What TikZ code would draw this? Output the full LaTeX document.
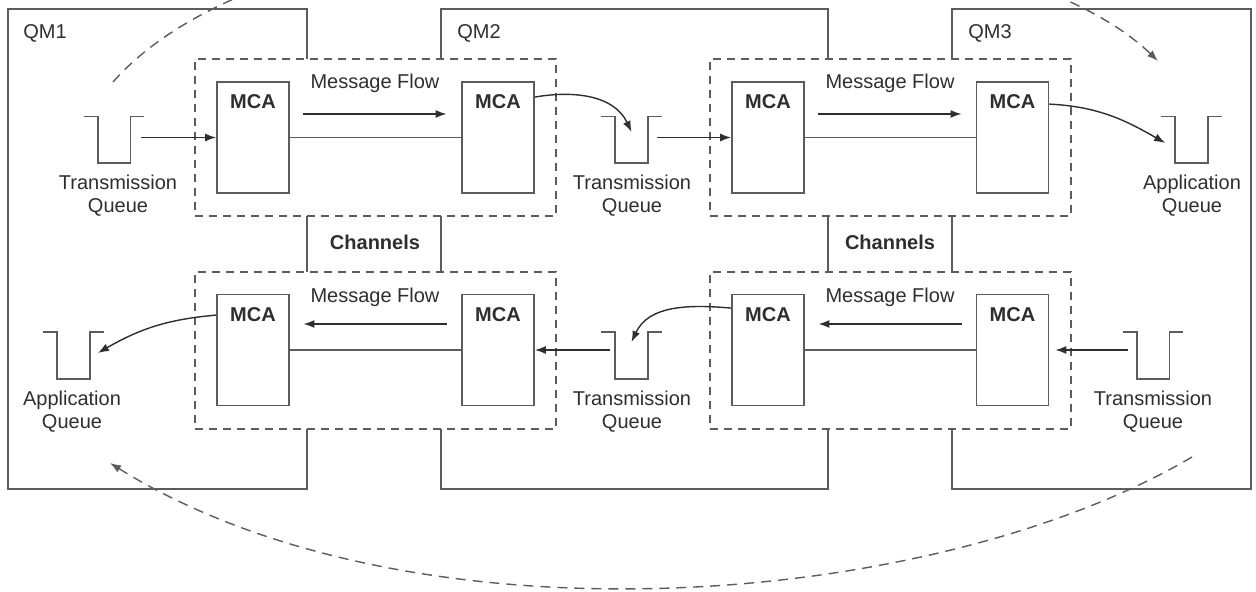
\documentclass[tikz,border=0pt]{standalone}
\usepackage{fontspec}
\setmainfont{Liberation Sans}
\usetikzlibrary{arrows.meta}

\definecolor{boxgray}{gray}{0.36}
\definecolor{inkgray}{gray}{0.18}

\tikzset{
  qmline/.style = {draw=boxgray, line width=0.9pt},
  mca/.style = {draw=boxgray, line width=0.9pt, minimum width=36pt, minimum height=55.5pt, inner sep=0pt,
    label={[anchor=north, yshift=-3.2pt, font=\bfseries, text=inkgray]north:MCA}},
  chan/.style = {draw=boxgray, line width=0.8pt, dash pattern=on 4pt off 3pt, minimum width=180.5pt, minimum height=78.5pt, inner sep=0pt},
  queue/.style = {minimum width=16pt, minimum height=23pt, inner sep=0pt},
  qlabel/.style = {align=center, text=inkgray, inner sep=0pt},
  qmtext/.style = {anchor=west, text=inkgray, inner sep=0pt},
  flow/.style = {draw=inkgray, line width=0.7pt, -{Latex[length=5.5pt,width=4pt]}},
  roundtrip/.style = {draw=boxgray, line width=0.7pt, dash pattern=on 5pt off 3.5pt, -{Latex[length=5.5pt,width=4pt]}}
}

\begin{document}
\begin{tikzpicture}[x=0.5pt, y=-0.5pt, font=\fontsize{10}{11.5}\selectfont]
\useasboundingbox (0,0) rectangle (1256,592);

% queue managers
\draw[qmline] (307,59) -- (307,9) -- (8,9) -- (8,489) -- (307,489) -- (307,429);
\draw[qmline] (307,216) -- (307,272);
\draw[qmline] (441,59) -- (441,9) -- (828,9) -- (828,59);
\draw[qmline] (441,216) -- (441,272);
\draw[qmline] (828,216) -- (828,272);
\draw[qmline] (441,429) -- (441,489) -- (828,489) -- (828,429);
\draw[qmline] (952,59) -- (952,9) -- (1251,9) -- (1251,489) -- (952,489) -- (952,429);
\draw[qmline] (952,216) -- (952,272);
\node[qmtext] (qm1) at (23,33) {QM1};
\node[qmtext] (qm2) at (457,33) {QM2};
\node[qmtext] (qm3) at (968,33) {QM3};

% channels
\node[chan] (c1) at (375.5,137.5) {};
\node[chan] (c2) at (890.5,137.5) {};
\node[chan] (c3) at (375.5,350.5) {};
\node[chan] (c4) at (890.5,350.5) {};
\node[font=\bfseries, text=inkgray] (ch1) at (375,242) {Channels};
\node[font=\bfseries, text=inkgray] (ch2) at (890,242) {Channels};

% MCAs
\node[mca] (m1) at (253,137.5) {};
\node[mca] (m2) at (498,137.5) {};
\node[mca] (m3) at (768,137.5) {};
\node[mca] (m4) at (1012.5,137.5) {};
\node[mca] (m5) at (253,350) {};
\node[mca] (m6) at (498,350) {};
\node[mca] (m7) at (768,350) {};
\node[mca] (m8) at (1012.5,350) {};
\draw[qmline] (m1) -- (m2);
\draw[qmline] (m3) -- (m4);
\draw[qmline] (m5) -- (m6);
\draw[qmline] (m7) -- (m8);

% message flow
\node[text=inkgray] (f1) at (375,83) {Message Flow};
\node[text=inkgray] (f2) at (890,83) {Message Flow};
\node[text=inkgray] (f3) at (375,297) {Message Flow};
\node[text=inkgray] (f4) at (890,297) {Message Flow};
\draw[flow] ([yshift=-15.5pt]f1.west) -- ([yshift=-15.5pt]f1.east);
\draw[flow] ([yshift=-15.5pt]f2.west) -- ([yshift=-15.5pt]f2.east);
\draw[flow] ([yshift=-13.5pt]f3.east) -- ([yshift=-13.5pt]f3.west);
\draw[flow] ([yshift=-13.5pt]f4.east) -- ([yshift=-13.5pt]f4.west);

% queues
\node[queue] (q1) at (114,140) {};
\node[queue] (q2) at (631.5,140) {};
\node[queue] (q3) at (1191.5,140) {};
\node[queue] (q4) at (73.5,355.5) {};
\node[queue] (q5) at (631.5,355.5) {};
\node[queue] (q6) at (1153,355.5) {};
\foreach \i in {1,...,6}
  \draw[qmline] ([xshift=-7pt]q\i.north west) -- (q\i.north west) -- (q\i.south west)
    -- (q\i.south east) -- (q\i.north east) -- ([xshift=7pt]q\i.north east);
\node[qlabel] (l1) at (118,196) {Transmission\\Queue};
\node[qlabel] (l2) at (632,196) {Transmission\\Queue};
\node[qlabel] (l3) at (1192,196) {Application\\Queue};
\node[qlabel] (l4) at (72,412) {Application\\Queue};
\node[qlabel] (l5) at (632,412) {Transmission\\Queue};
\node[qlabel] (l6) at (1153,412) {Transmission\\Queue};

% queue <-> MCA
\draw[flow] ([xshift=5.5pt]m1.west -| q1.east) -- (m1.west);
\draw[flow] ([yshift=-8pt]m2.north east) to[out=10, in=115] ([yshift=4pt]q2.center);
\draw[flow] ([xshift=4.5pt]m3.west -| q2.east) -- (m3.west);
\draw[flow] ([yshift=-11.5pt]m4.north east) to[out=-3, in=150] ([xshift=-5pt, yshift=-1.5pt]q3.west);
\draw[flow] ([yshift=-10.75pt]m5.north west) to[out=185, in=30] ([xshift=4pt, yshift=1.25pt]q4.east);
\draw[flow] ([xshift=-2.5pt]m6.east -| q5.west) -- (m6.east);
\draw[flow] ([yshift=-7.25pt]m7.north west) to[out=175, in=65] ([yshift=6.75pt]q5.center);
\draw[flow, shorten >=3pt] ([xshift=-4.5pt]m8.east -| q6.west) -- (m8.east);

% round trip
\coordinate (rt1) at (113,82);
\coordinate (rt2) at (1158,61);
\coordinate (rt3) at (1192,457);
\coordinate (rt4) at (110,463);
\draw[roundtrip] (rt1) .. controls (300,-130) and (980,-110) .. (rt2);
\draw[roundtrip] (rt3) .. controls (932,610) and (410,650) .. (rt4);
\end{tikzpicture}
\end{document}
